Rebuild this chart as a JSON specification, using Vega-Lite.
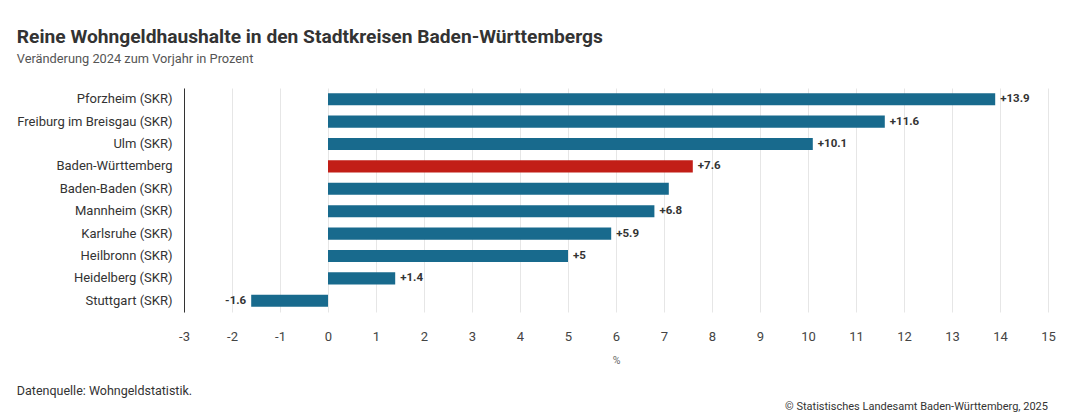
{
  "$schema": "https://vega.github.io/schema/vega-lite/v6.json",
  "padding": {"left": 16, "top": 28, "right": 15, "bottom": 0},
  "background": "white",
  "config": {
    "font": "Roboto",
    "view": {"stroke": null},
    "concat": {"spacing": 3}
  },
  "title": {
    "text": "Reine Wohngeldhaushalte in den Stadtkreisen Baden-Württembergs",
    "subtitle": "Veränderung 2024 zum Vorjahr in Prozent",
    "anchor": "start",
    "fontSize": 19.2,
    "fontWeight": "bold",
    "color": "#333333",
    "subtitleFontSize": 12.8,
    "subtitleColor": "#555555",
    "subtitlePadding": 6,
    "offset": 22
  },
  "datasets": {
    "werte": [
      {"name": "Pforzheim (SKR)", "wert": 13.9, "typ": "Stadtkreis"},
      {"name": "Freiburg im Breisgau (SKR)", "wert": 11.6, "typ": "Stadtkreis"},
      {"name": "Ulm (SKR)", "wert": 10.1, "typ": "Stadtkreis"},
      {"name": "Baden-Württemberg", "wert": 7.6, "typ": "Land"},
      {"name": "Baden-Baden (SKR)", "wert": 7.1, "typ": "Stadtkreis"},
      {"name": "Mannheim (SKR)", "wert": 6.8, "typ": "Stadtkreis"},
      {"name": "Karlsruhe (SKR)", "wert": 5.9, "typ": "Stadtkreis"},
      {"name": "Heilbronn (SKR)", "wert": 5, "typ": "Stadtkreis"},
      {"name": "Heidelberg (SKR)", "wert": 1.4, "typ": "Stadtkreis"},
      {"name": "Stuttgart (SKR)", "wert": -1.6, "typ": "Stadtkreis"}
    ]
  },
  "vconcat": [
    {
      "width": 864,
      "height": 224,
      "data": {"name": "werte"},
      "title": {
        "text": "Datenquelle: Wohngeldstatistik.",
        "orient": "bottom",
        "anchor": "start",
        "frame": "bounds",
        "fontSize": 12.5,
        "fontWeight": "normal",
        "color": "#333333",
        "offset": 19
      },
      "encoding": {
        "y": {
          "field": "name",
          "type": "nominal",
          "sort": null,
          "scale": {"paddingInner": 0.46, "paddingOuter": 0.23},
          "axis": {
            "title": null,
            "ticks": false,
            "labelPadding": 12,
            "labelFontSize": 13,
            "labelColor": "#333333",
            "domainColor": "#333333",
            "domainWidth": 1,
            "grid": false
          }
        }
      },
      "layer": [
        {
          "mark": {"type": "bar"},
          "encoding": {
            "x": {
              "field": "wert",
              "type": "quantitative",
              "scale": {"domain": [-3, 15], "nice": false, "zero": false},
              "axis": {
                "title": "%",
                "titleFontSize": 10.5,
                "titleFontWeight": "normal",
                "titleColor": "#666666",
                "titlePadding": 12,
                "values": [-3, -2, -1, 0, 1, 2, 3, 4, 5, 6, 7, 8, 9, 10, 11, 12, 13, 14, 15],
                "labelExpr": "toString(datum.value)",
                "labelFontSize": 13,
                "labelColor": "#444444",
                "labelPadding": 18,
                "ticks": false,
                "domain": false,
                "grid": true,
                "gridColor": "#e6e6e6",
                "labelFlush": false
              }
            },
            "color": {
              "field": "typ",
              "type": "nominal",
              "scale": {"domain": ["Stadtkreis", "Land"], "range": ["#186a8d", "#c21e17"]},
              "legend": null
            }
          }
        },
        {
          "mark": {"type": "rule", "color": "#333333", "strokeWidth": 1},
          "encoding": {"x": {"datum": 0}}
        },
        {
          "transform": [{"filter": "datum.name !== 'Baden-Baden (SKR)'"}],
          "mark": {
            "type": "text",
            "fontSize": 11.5,
            "fontWeight": "bold",
            "color": "#333333",
            "align": {"expr": "datum.wert < 0 ? 'right' : 'left'"},
            "dx": {"expr": "datum.wert < 0 ? -5 : 5"},
            "text": {"expr": "(datum.wert > 0 ? '+' : '') + toString(datum.wert)"}
          },
          "encoding": {
            "x": {"field": "wert", "type": "quantitative"}
          }
        }
      ]
    },
    {
      "width": 864,
      "height": 1,
      "data": {"values": []},
      "mark": "text",
      "title": {
        "text": "© Statistisches Landesamt Baden-Württemberg, 2025",
        "orient": "bottom",
        "anchor": "end",
        "frame": "group",
        "fontSize": 11,
        "fontWeight": "normal",
        "color": "#333333",
        "offset": 0
      }
    }
  ]
}
